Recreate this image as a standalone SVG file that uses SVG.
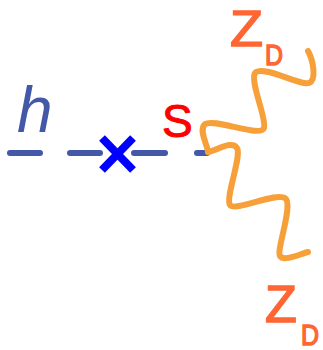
<svg xmlns="http://www.w3.org/2000/svg" width="323" height="350" viewBox="0 0 323 350">
<style>
.dash{stroke:#4358a8;stroke-width:6;stroke-linecap:round;fill:none}
.wave{stroke:#f7a03a;stroke-width:6;stroke-linecap:round;stroke-linejoin:round;fill:none}
.z{font-family:"Liberation Sans",Arial,sans-serif;fill:#ff6633;stroke:#ff6633;stroke-width:1.5}
</style>
<rect width="323" height="350" fill="#ffffff"/>
<g id="connectors">
<line class="dash" x1="10" y1="153" x2="40" y2="153"/>
<line class="dash" x1="70" y1="153" x2="100" y2="153"/>
<line class="dash" x1="134" y1="153" x2="165" y2="153"/>
<line class="dash" x1="197" y1="153" x2="207" y2="153"/>
<path class="wave" d="M308,51 C313,60 317,80 309,83 C300,86 266,66 256,72 C248,78 267,118 264,128 C261,138 214,118 205,124 C198,130 208,146 208,152"/>
<path class="wave" d="M208,152 C218,150 232,140 237,148 C242,156 225,198 230,205 C235,212 276,192 285,198 C294,204 276,250 280,256 C284,262 300,254 308,252"/>
</g>
<g id="h">
<text x="17" y="132" font-family="Liberation Sans,Arial,sans-serif" font-style="italic" font-size="64" fill="#4358a8">h</text>
</g>
<g id="vertex">
<line x1="102" y1="138" x2="133" y2="170" stroke="#0000ff" stroke-width="8"/>
<line x1="133" y1="138" x2="102" y2="170" stroke="#0000ff" stroke-width="8"/>
</g>
<g id="S">
<text x="162" y="137" font-family="Liberation Sans,Arial,sans-serif" font-size="46" fill="#ff0000" stroke="#ff0000" stroke-width="1">S</text>
</g>
<g id="ZD-top">
<text class="z" x="230" y="46" font-size="50" textLength="33" lengthAdjust="spacingAndGlyphs">Z</text>
<text class="z" x="265" y="65" font-size="30" textLength="18" lengthAdjust="spacingAndGlyphs">D</text>
</g>
<g id="ZD-bottom">
<text class="z" x="265" y="322" font-size="52">Z</text>
<text class="z" x="301" y="345" font-size="30" textLength="18" lengthAdjust="spacingAndGlyphs">D</text>
</g>
</svg>
